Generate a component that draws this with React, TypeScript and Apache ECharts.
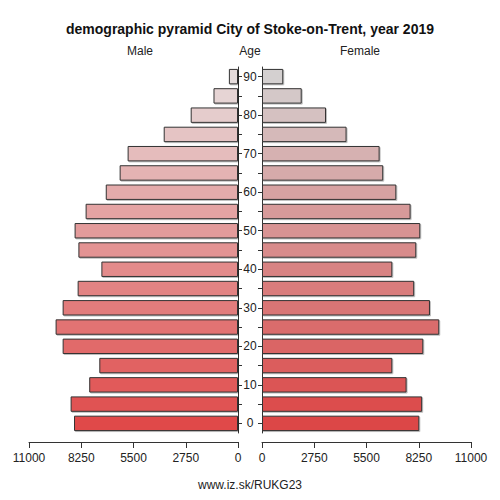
import React, { useRef, useEffect } from "react";
import * as echarts from "echarts";

const ages = ["0", "5", "10", "15", "20", "25", "30", "35", "40", "45", "50", "55", "60", "65", "70", "75", "80", "85", "90"];
const maleValues = [8630, 8810, 7830, 7300, 9230, 9600, 9230, 8440, 7190, 8400, 8600, 8020, 6960, 6230, 5810, 3910, 2490, 1290, 480];
const femaleValues = [8280, 8430, 7610, 6860, 8490, 9330, 8840, 8010, 6860, 8120, 8330, 7820, 7070, 6380, 6190, 4450, 3370, 2090, 1120];
const xTicks = [0, 2750, 5500, 8250, 11000];

const FONT = "'Liberation Sans', Arial, sans-serif";

// blend between two hex colours, t in [0,1]
function mix(a: string, b: string, t: number) {
  const pa = [1, 3, 5].map((i) => parseInt(a.slice(i, i + 2), 16));
  const pb = [1, 3, 5].map((i) => parseInt(b.slice(i, i + 2), 16));
  const c = pa.map((v, i) => Math.round(v + (pb[i] - v) * t));
  return "#" + c.map((v) => v.toString(16).padStart(2, "0")).join("");
}

export default function App() {
  const chartRef = useRef<HTMLDivElement>(null);

  useEffect(() => {
    if (!chartRef.current) return;
    const chart = echarts.init(chartRef.current, null, { renderer: "svg" });

    const n = ages.length;
    const top = 67;
    const height = 366;

    const barStyle = (bottom: string, topC: string) => (p: any) =>
      mix(bottom, topC, p.dataIndex / (n - 1));

    const xAxisBase = (gridIndex: number, inverse: boolean) => ({
      type: "value",
      gridIndex,
      inverse,
      min: 0,
      max: xTicks[xTicks.length - 1],
      interval: xTicks[1] - xTicks[0],
      offset: 9,
      axisLine: { show: true, lineStyle: { color: "#333", width: 1 } },
      axisTick: { show: true, length: 6, lineStyle: { color: "#333" } },
      axisLabel: {
        color: "#222",
        fontSize: 12,
        fontFamily: FONT,
        margin: 10,
        showMinLabel: true,
        showMaxLabel: true,
        formatter: (v: number) => String(v),
      },
      splitLine: { show: false },
    });

    const yAxisBase = (gridIndex: number, position: string, showLabel: boolean) => ({
      type: "category",
      gridIndex,
      position,
      data: ages,
      boundaryGap: true,
      axisLine: { show: true, lineStyle: { color: "#333", width: 1 } },
      axisTick: {
        show: true,
        alignWithLabel: true,
        interval: 0,
        length: 4,
        lineStyle: { color: "#333" },
      },
      axisLabel: {
        show: showLabel,
        interval: (i: number) => i % 2 === 0,
        align: "center",
        margin: 12,
        color: "#222",
        fontSize: 12,
        fontFamily: FONT,
      },
    });

    const barItem = {
      borderColor: "#333",
      borderWidth: 1,
      shadowColor: "rgba(0,0,0,0.25)",
      shadowOffsetX: 1,
      shadowOffsetY: 1,
      shadowBlur: 0,
    };

    chart.setOption({
      animation: false,
      textStyle: { fontFamily: FONT },
      grid: [
        { left: 29, width: 209, top, height, containLabel: false },
        { left: 262, width: 209, top, height, containLabel: false },
      ],
      xAxis: [xAxisBase(0, true), xAxisBase(1, false)],
      yAxis: [yAxisBase(0, "right", true), yAxisBase(1, "left", false)],
      series: [
        {
          type: "bar",
          name: "Male",
          xAxisIndex: 0,
          yAxisIndex: 0,
          data: maleValues,
          barCategoryGap: "20%",
          itemStyle: { ...barItem, color: barStyle("#e04a4a", "#e6dcdc") },
        },
        {
          type: "bar",
          name: "Female",
          xAxisIndex: 1,
          yAxisIndex: 1,
          data: femaleValues,
          barCategoryGap: "20%",
          itemStyle: { ...barItem, color: barStyle("#dc4646", "#d4d0d0") },
        },
      ],
      graphic: [
        {
          type: "text",
          x: 250,
          y: 29,
          style: {
            text: "demographic pyramid City of Stoke-on-Trent, year 2019",
            font: `bold 14px ${FONT}`,
            fill: "#111",
            align: "center",
            verticalAlign: "middle",
          },
        },
        {
          type: "text",
          x: 140,
          y: 51,
          style: { text: "Male", font: `12px ${FONT}`, fill: "#222", align: "center", verticalAlign: "middle" },
        },
        {
          type: "text",
          x: 250,
          y: 51,
          style: { text: "Age", font: `12px ${FONT}`, fill: "#222", align: "center", verticalAlign: "middle" },
        },
        {
          type: "text",
          x: 360,
          y: 51,
          style: { text: "Female", font: `12px ${FONT}`, fill: "#222", align: "center", verticalAlign: "middle" },
        },
        {
          type: "text",
          x: 250,
          y: 485,
          style: { text: "www.iz.sk/RUKG23", font: `12px ${FONT}`, fill: "#222", align: "center", verticalAlign: "middle" },
        },
      ],
    });

    return () => chart.dispose();
  }, []);

  return <div ref={chartRef} style={{ width: 500, height: 500, margin: -8 }} />;
}
